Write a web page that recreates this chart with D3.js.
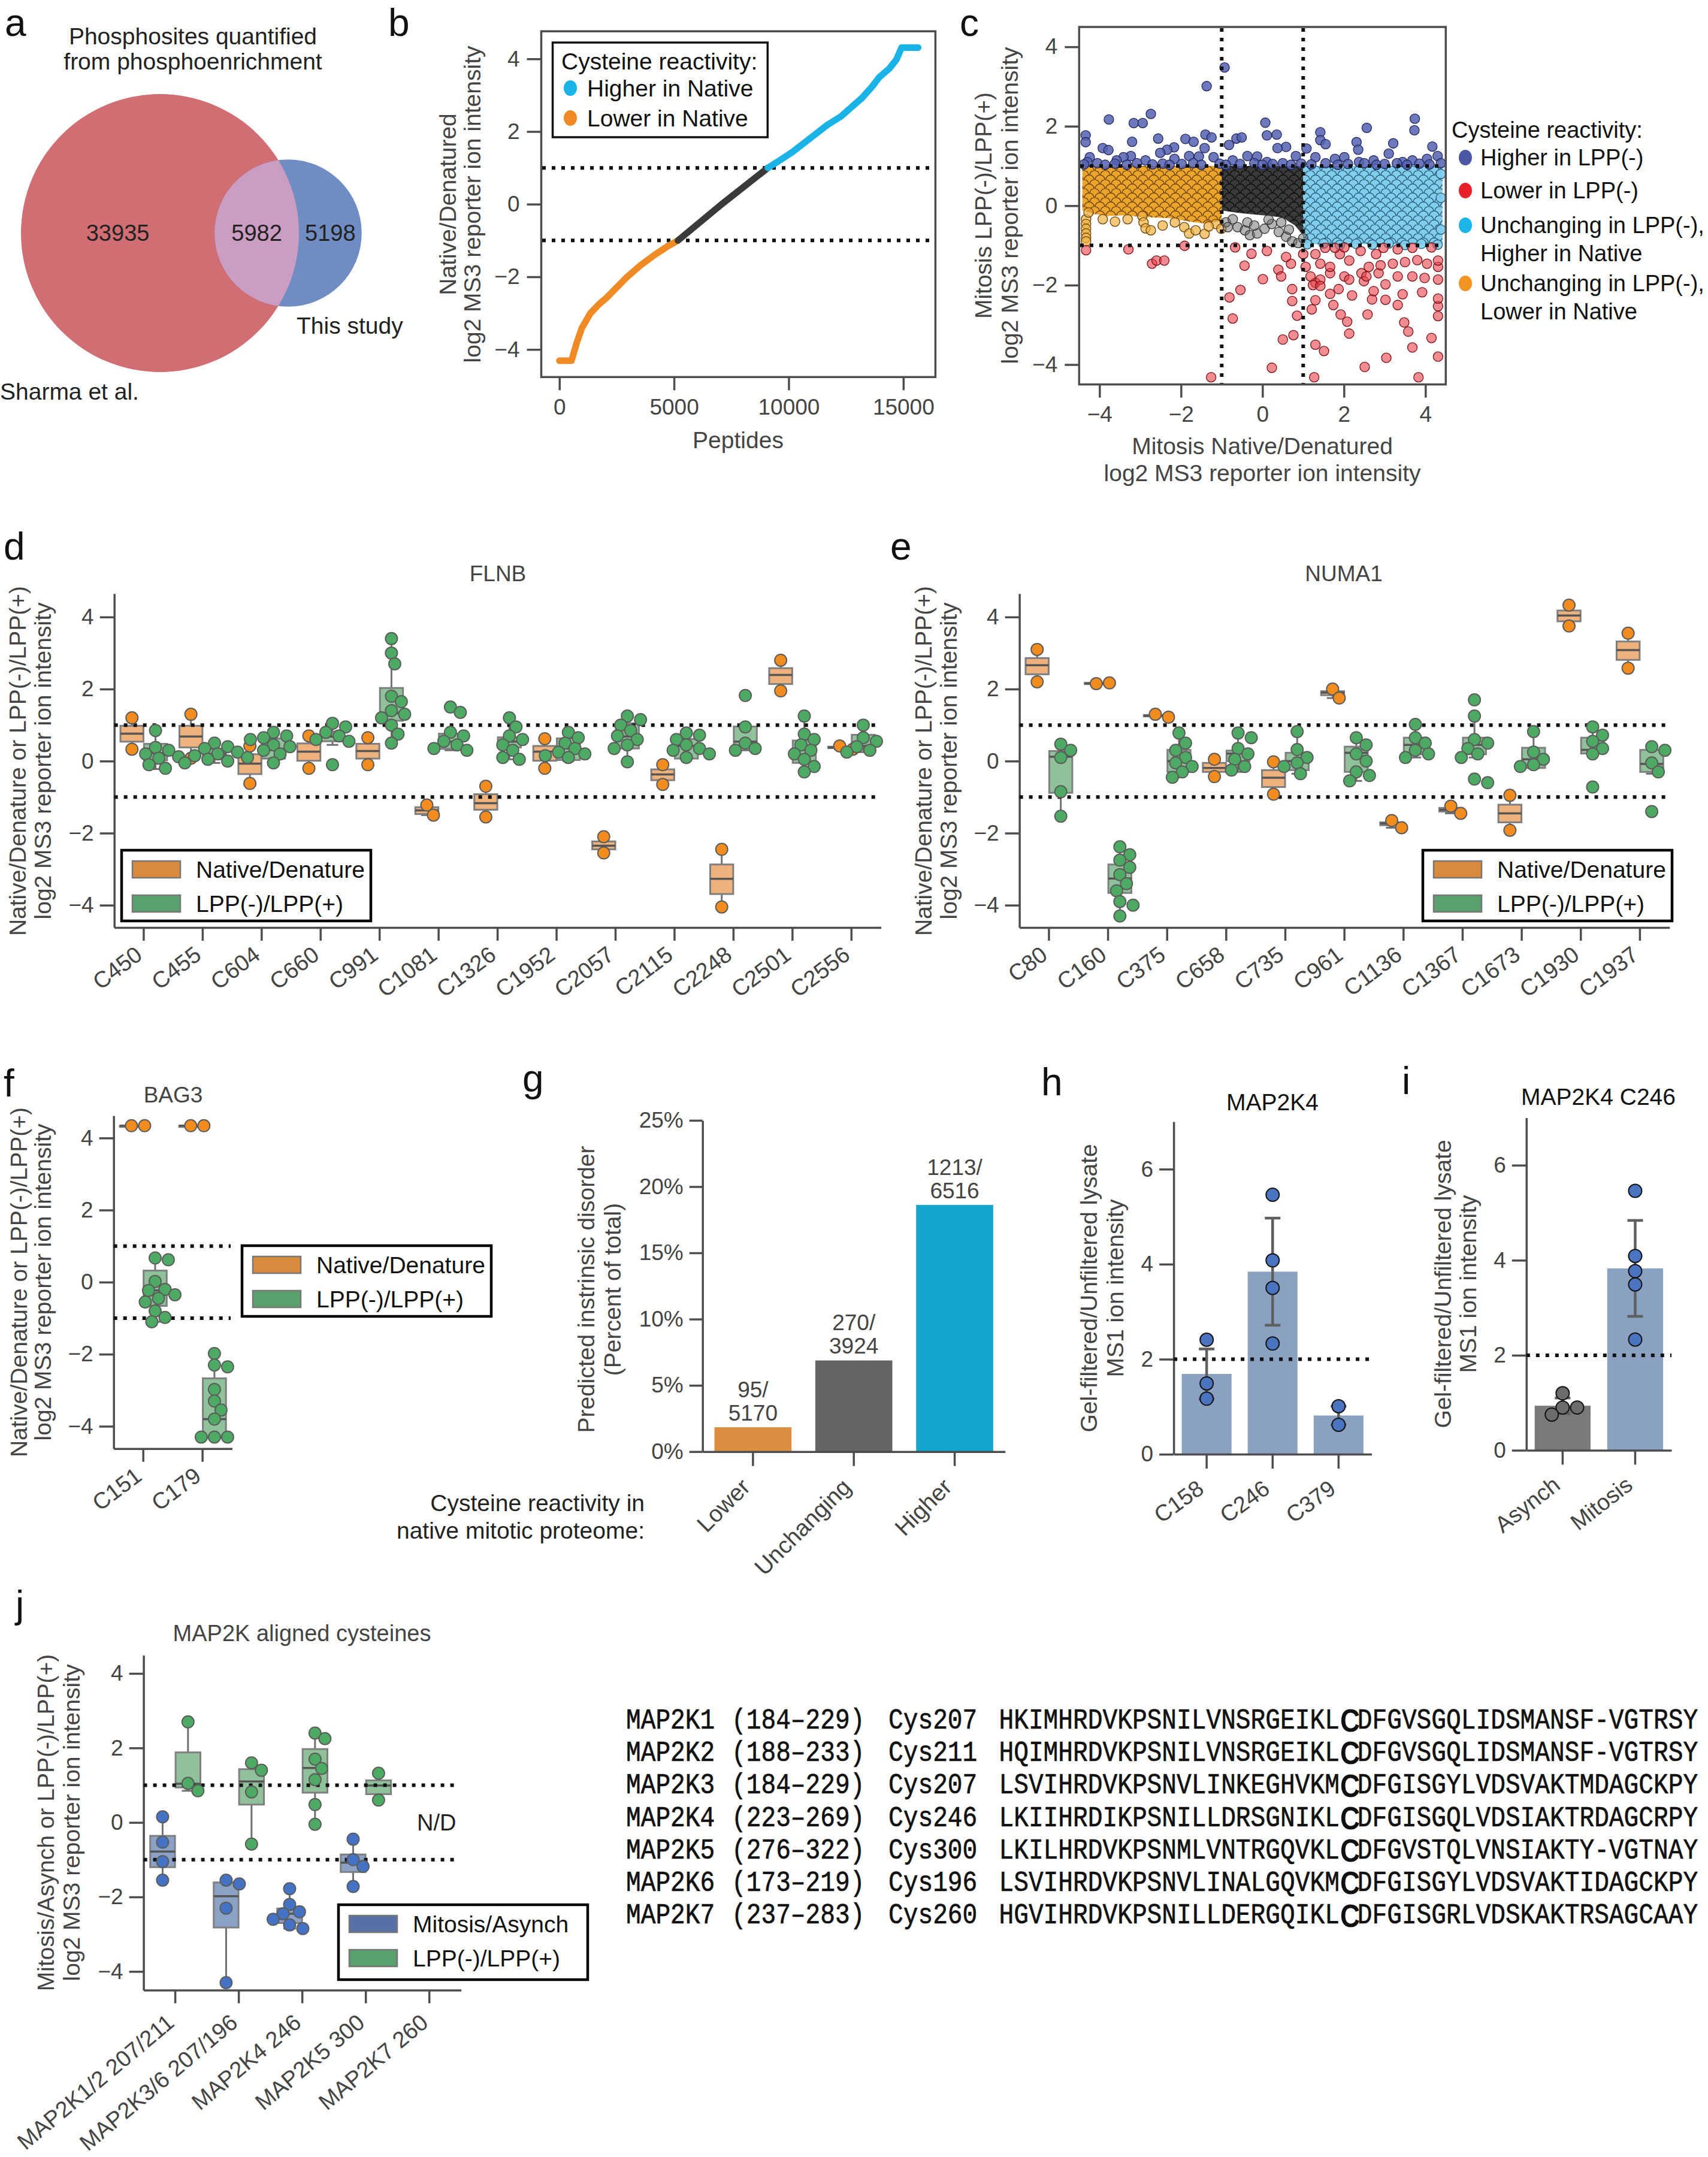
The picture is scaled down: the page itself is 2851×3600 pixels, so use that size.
<!DOCTYPE html>
<html>
<head>
<meta charset="utf-8">
<script src="https://cdn.jsdelivr.net/npm/d3@7"></script>
<style>
  body { margin: 0; background: #fff; }
</style>
</head>
<body>
<svg id="fig" width="2851" height="3600"></svg>
<script>
// ---------------- data ----------------
// a: venn
var vennCounts = [33935, 5982, 5198];          // only Sharma, both, only this study
var vennNames = ["Sharma et al.", "This study"];

// b: ranked peptides
var peptideRank  = [0, 528, 754, 980, 1357, 1734, 2035, 2940, 3543, 4146, 4749, 5170, 7161, 9094, 9573, 10176, 10929, 11683, 12286, 12738, 13191, 13643, 13944, 14397, 14698, 14924, 15650];
var peptideRatio = [-4.31, -4.31, -3.82, -3.41, -3.0, -2.75, -2.59, -2.01, -1.68, -1.40, -1.15, -1.0, 0.04, 1.0, 1.19, 1.44, 1.81, 2.18, 2.42, 2.67, 2.92, 3.24, 3.49, 3.74, 3.98, 4.31, 4.31];
var rankCuts = [5170, 9094];

// c: scatter
var cHigher = [[-0.93,3.48],[-1.37,3.01],[-3.77,2.17],[-2.74,2.31],[-3.16,2.08],[-2.94,2.08],[0.07,2.09],[3.74,2.19],[3.73,1.9],[2.56,1.96],[-4.34,1.77],[-4.34,1.6],[1.42,1.85],[1.42,1.65],[1.55,1.55],[0.11,1.77],[0.35,1.79],[-0.64,1.69],[-0.51,1.72],[-1.4,1.79],[-1.25,1.72],[-2.56,1.69],[-3.2,1.61],[-1.89,1.68],[-1.69,1.61],[2.31,1.6],[2.35,1.41],[3.21,1.57],[4.17,1.49],[-3.92,1.45],[-3.78,1.4],[-2.17,1.47],[-2.34,1.41],[-1.42,1.45],[-0.82,1.53],[0.58,1.48],[0.37,1.45],[1.08,1.44],[3.1,1.31],[-3.23,1.25],[-3.41,1.22],[-4.24,1.22],[-2.51,1.33],[-1.8,1.25],[-1.56,1.24],[-1.2,1.22],[-0.37,1.25],[-0.13,1.24],[0.82,1.25],[1.3,1.22],[1.78,1.18],[2.01,1.22],[2.73,1.14],[3.44,1.1],[4.04,1.18],[4.3,1.25],[-4.3,1.1],[-3.58,1.14],[-2.87,1.14],[-2.16,1.18],[-0.73,1.14],[0.11,1.1],[2.37,1.1],[3.68,1.14],
  [-4.38,1.04],[-4.05,1.07],[-3.86,1.03],[-3.62,1.06],[-3.33,1.03],[-3.08,1.07],[-2.7,1.04],[-2.45,1.06],[-2.28,1.03],[-1.98,1.05],[-1.7,1.07],[-1.5,1.03],[-1.05,1.06],[-0.9,1.03],[-0.55,1.05],[-0.2,1.07],[0.0,1.03],[0.25,1.05],[0.5,1.07],[0.7,1.03],[0.95,1.06],[1.2,1.04],[1.55,1.07],[1.85,1.03],[2.1,1.05],[2.5,1.07],[2.8,1.03],[3.0,1.05],[3.3,1.07],[3.55,1.03],[3.85,1.06],[4.1,1.04],[4.38,1.07]];
var cLower = [[-4.33,-1.12],[-3.29,-1.1],[-2.71,-1.46],[-2.6,-1.38],[-2.41,-1.38],[-1.91,-1.01],[-0.67,-1.05],[-0.27,-1.21],[0.11,-1.14],[-0.44,-1.51],[0.39,-1.61],[0.01,-1.85],[-0.54,-2.12],[-0.81,-2.31],[-0.73,-2.84],[0.73,-2.4],[0.85,-2.77],[0.76,-3.26],[0.5,-3.37],[0.23,-4.08],[-1.26,-4.32],[1.27,-4.32],[1.3,-3.5],[1.51,-3.66],[3.04,-3.83],[2.51,-4.06],[3.83,-4.32],[4.31,-3.8],[3.68,-3.57],[4.15,-3.33],[3.58,-3.17],[3.48,-2.94],[2.58,-2.74],[2.13,-3.22],[2.08,-2.92],[1.92,-2.74],[1.21,-2.61],[1.74,-2.5],[2.69,-2.36],[3.02,-2.37],[3.32,-2.5],[4.31,-2.53],[4.31,-2.78],[4.31,-2.34],[3.92,-2.18],[3.44,-2.23],[2.73,-2.15],[2.2,-2.26],[1.87,-2.1],[1.66,-2.22],[1.3,-2.38],[0.73,-2.1],[1.3,-1.94],[1.42,-1.86],[1.18,-1.78],[1.24,-2.0],[1.42,-2.02],[1.66,-1.7],[2.01,-1.78],[2.13,-1.86],[2.43,-1.7],[2.49,-1.9],[2.55,-1.78],[2.85,-1.7],[3.02,-1.98],[3.32,-1.78],[3.68,-1.78],[3.98,-1.82],[4.31,-1.86],[4.31,-1.54],[4.31,-1.38],[4.04,-1.46],[3.8,-1.37],[3.5,-1.42],[3.2,-1.46],[2.9,-1.5],[2.79,-1.22],[2.61,-1.54],[2.41,-1.14],[2.13,-1.38],[1.9,-1.22],[1.66,-1.54],[1.42,-1.46],[1.3,-1.22],[1.06,-1.54],[0.7,-1.46],[1.0,-1.22],[1.54,-1.06],[1.78,-1.06],[2.01,-1.05],[2.97,-1.06],[3.32,-1.1],[3.68,-1.06],[4.15,-1.05],[0.58,-1.29],[0.46,-1.78]];
var cGrayEdge = [[-0.9,-0.42],[-0.73,-0.34],[-0.61,-0.54],[-0.43,-0.62],[-0.31,-0.74],[-0.13,-0.7],[0.05,-0.58],[0.23,-0.46],[0.4,-0.66],[0.58,-0.78],[0.73,-0.9],[0.88,-0.94],[1.0,-0.82],[0.46,-0.42],[-0.37,-0.42],[-0.85,-0.54],[0.15,-0.35],[-0.2,-0.5],[0.65,-0.6]];
var cOrangeEdge = [[-4.33,-0.34],[-4.33,-0.46],[-4.33,-0.58],[-4.33,-0.7],[-4.33,-0.81],[-4.33,-0.9],[-4.27,-0.17],[-3.92,-0.34],[-3.62,-0.4],[-3.31,-0.34],[-2.95,-0.26],[-2.92,-0.42],[-2.87,-0.57],[-2.74,-0.62],[-2.45,-0.5],[-2.15,-0.42],[-1.92,-0.54],[-1.8,-0.7],[-1.64,-0.62],[-1.42,-0.71],[-1.14,-0.46],[-1.01,-0.58],[-1.32,-0.52]];
var cBlueEdge = [[1.1,-0.97],[1.5,-0.95],[1.9,-0.99],[2.3,-0.96],[2.7,-0.98],[3.1,-0.95],[3.5,-0.99],[3.9,-0.96],[4.3,-0.98],[4.38,-0.6],[4.38,0.2],[4.38,0.8]];
// dense cores: [x, low, high]
var cOrangeBand = [[-4.42,-0.12,1.0],[-4.2,-0.2,1.0],[-3.8,-0.26,1.0],[-3.4,-0.24,1.0],[-3.0,-0.28,1.0],[-2.6,-0.3,1.0],[-2.2,-0.32,1.0],[-1.8,-0.4,1.0],[-1.4,-0.45,1.0],[-1.0,-0.38,1.0]];
var cBlackBand  = [[-1.0,-0.12,1.0],[-0.6,-0.18,1.0],[-0.2,-0.22,1.0],[0.2,-0.26,1.0],[0.5,-0.3,1.0],[0.8,-0.5,1.0],[1.0,-0.75,1.0]];
var cBlueBand   = [[1.0,-0.96,1.0],[1.8,-0.98,1.0],[2.6,-0.97,1.0],[3.4,-0.98,1.0],[4.42,-0.96,1.0]];
var cLegend = ["Higher in LPP(-)", "Lower in LPP(-)", "Unchanging in LPP(-),|Higher in Native", "Unchanging in LPP(-),|Lower in Native"];

// d: FLNB  [low whisker, q1, median, q3, high whisker]
var flnbSites = ["C450","C455","C604","C660","C991","C1081","C1326","C1952","C2057","C2115","C2248","C2501","C2556"];
var flnbNatBox = [[0.33,0.54,0.76,0.98,1.2],[0.1,0.38,0.68,0.98,1.3],[-0.62,-0.36,-0.07,0.19,0.42],[-0.2,0.01,0.26,0.49,0.7],[-0.1,0.07,0.28,0.48,0.65],[-1.5,-1.47,-1.37,-1.28,-1.22],[-1.55,-1.35,-1.17,-0.92,-0.7],[-0.2,0.01,0.26,0.42,0.62],[-2.55,-2.45,-2.35,-2.23,-2.1],[-0.65,-0.53,-0.37,-0.23,-0.1],[-4.05,-3.69,-3.27,-2.87,-2.45],[1.95,2.14,2.39,2.58,2.8],[0.33,0.36,0.38,0.4,0.42]];
var flnbNatPts = [[1.2,0.33],[1.3,0.08],[0.42,-0.62],[0.7,-0.2],[0.65,-0.1],[-1.22,-1.5],[-0.7,-1.55],[0.62,-0.2],[-2.1,-2.55],[-0.1,-0.65],[-2.45,-4.05],[2.8,1.95],[0.42,0.33]];
var flnbLppBox = [[-0.22,0.02,0.22,0.48,0.85],[-0.05,0.05,0.2,0.33,0.55],[-0.05,0.07,0.31,0.63,0.8],[0.45,0.55,0.68,0.82,1.05],[0.5,1.12,1.33,2.03,3.4],[0.3,0.34,0.54,0.76,0.8],[0.05,0.38,0.54,0.66,1.2],[0.0,0.03,0.35,0.63,0.85],[-0.02,0.35,0.68,1.05,1.3],[0.05,0.07,0.42,0.61,0.78],[0.3,0.42,0.54,0.96,1.0],[-0.35,-0.05,0.31,0.57,1.25],[0.25,0.38,0.42,0.73,1.05]];
var flnbLppPts = [[0.85,0.38,0.3,0.2,0.12,0.08,-0.1,-0.2],[0.5,0.4,0.35,0.25,0.2,0.15,0.1,0.05,0.0,-0.05],[0.8,0.7,0.65,0.6,0.45,0.4,0.3,0.2,-0.05],[1.05,0.95,0.8,0.7,0.6,0.55,-0.1],[3.4,3.0,2.7,1.8,1.65,1.4,1.3,1.2,1.0,0.75,0.5],[1.5,1.35,0.8,0.7,0.55,0.45,0.35,0.3],[1.2,0.95,0.7,0.6,0.45,0.3,0.1,0.05],[0.8,0.65,0.5,0.35,0.25,0.2,0.15,0.1],[1.25,1.15,1.0,0.85,0.7,0.6,0.45,0.35,-0.02],[0.78,0.72,0.6,0.45,0.35,0.3,0.2,0.1],[1.82,0.95,0.5,0.35,0.3],[1.25,0.75,0.6,0.45,0.3,0.2,0.05,-0.15,-0.3],[1.0,0.65,0.55,0.4,0.3,0.25]];

// e: NUMA1
var numaSites = ["C80","C160","C375","C658","C735","C961","C1136","C1367","C1673","C1930","C1937"];
var numaNatBox = [[2.2,2.41,2.66,2.86,3.1],[2.14,2.15,2.16,2.17,2.18],[1.22,1.24,1.26,1.28,1.3],[-0.43,-0.3,-0.19,-0.05,0.05],[-0.92,-0.72,-0.46,-0.25,-0.02],[1.75,1.83,1.9,1.94,2.0],[-1.85,-1.78,-1.73,-1.7,-1.65],[-1.45,-1.4,-1.35,-1.3,-1.25],[-1.92,-1.7,-1.45,-1.21,-0.95],[3.75,3.88,4.04,4.18,4.33],[2.58,2.81,3.08,3.32,3.55]];
var numaNatPts = [[3.1,2.2],[2.15,2.17],[1.3,1.22],[0.05,-0.43],[-0.02,-0.92],[2.0,1.75],[-1.65,-1.85],[-1.25,-1.45],[-0.95,-1.92],[4.33,3.75],[3.55,2.58]];
var numaLppBox = [[-1.53,-0.88,0.12,0.28,0.47],[-4.3,-3.66,-3.26,-2.87,-2.38],[-0.45,-0.3,0.0,0.31,0.78],[-0.3,0.0,0.21,0.29,0.8],[-0.35,-0.25,0.0,0.23,0.85],[-0.55,-0.3,0.23,0.4,0.65],[0.1,0.19,0.45,0.65,1.02],[0.1,0.19,0.45,0.65,1.25],[-0.2,-0.19,0.05,0.37,0.82],[0.15,0.21,0.31,0.65,1.0],[-0.35,-0.3,-0.08,0.31,0.4]];
var numaLppPts = [[0.47,0.3,0.1,-0.85,-1.53],[-2.38,-2.6,-2.75,-2.95,-3.15,-3.4,-3.6,-3.9,-4.0,-4.3],[0.78,0.5,0.3,0.1,-0.05,-0.15,-0.3,-0.45],[0.78,0.65,0.35,0.2,0.05,-0.15,-0.25],[0.82,0.32,0.1,-0.05,-0.15,-0.35],[0.65,0.45,0.2,0.0,-0.3,-0.4,-0.55],[1.02,0.65,0.5,0.3,0.2,0.1],[1.7,1.25,0.6,0.5,0.35,0.2,0.1,-0.5,-0.6],[0.82,0.25,0.05,-0.1,-0.15],[0.95,0.72,0.55,0.35,0.2,-0.72],[0.4,0.3,-0.05,-0.3,-1.4]];

// f: BAG3
var bagSites = ["C151","C179"];
var bagNatBox = [[4.33,4.33,4.34,4.34,4.35],[4.33,4.33,4.34,4.34,4.35]];
var bagNatPts = [[4.34,4.34],[4.34,4.34]];
var bagLppBox = [[-1.1,-0.66,-0.23,0.32,0.67],[-4.33,-4.32,-3.8,-2.67,-1.98]];
var bagLppPts = [[0.67,0.62,0.02,-0.2,-0.23,-0.35,-0.45,-0.55,-0.8,-0.98,-1.1],[-1.98,-2.3,-2.35,-2.98,-3.3,-3.55,-3.8,-4.3,-4.3,-4.3]];

// g: disorder
var reactClass = ["Lower","Unchanging","Higher"];
var disorderN = [95, 270, 1213];
var classN = [5170, 3924, 6516];
var classColor = ["#db8e3f", "#636466", "#14a5cf"];

// h, i
var hSites = ["C158","C246","C379"];
var hVals = [[2.41,1.49,1.17],[5.46,4.08,3.5,2.33],[1.01,0.62]];
var iConds = ["Asynch","Mitosis"];
var iVals = [[1.2,0.9,0.9,0.75],[5.46,4.09,3.77,3.49,2.33]];

// j: MAP2K
var mapSites = ["MAP2K1/2 207/211","MAP2K3/6 207/196","MAP2K4 246","MAP2K5 300","MAP2K7 260"];
var mapMitBox = [[-1.55,-1.2,-0.78,-0.36,0.15],[-4.3,-2.82,-1.98,-1.61,-1.55],[-2.85,-2.7,-2.45,-2.31,-1.78],[-1.72,-1.33,-1.08,-0.86,-0.45],null];
var mapMitPts = [[0.15,-0.53,-1.05,-1.55],[-1.55,-1.65,-2.3,-4.3],[-1.78,-2.2,-2.4,-2.45,-2.6,-2.75,-2.85],[-0.45,-1.0,-1.18,-1.72],null];
var mapLppBox = [[0.85,0.94,1.04,1.88,2.7],[-0.58,0.48,1.1,1.43,1.6],[-0.05,0.8,1.46,1.97,2.4],[0.6,0.76,0.99,1.13,1.32],null];
var mapLppPts = [[2.7,1.05,0.85],[1.6,1.4,0.82,-0.58],[2.4,2.25,1.7,1.45,1.15,0.48,-0.05],[1.32,0.6],null];

// alignment
var seqNames = ["MAP2K1","MAP2K2","MAP2K3","MAP2K4","MAP2K5","MAP2K6","MAP2K7"];
var seqRanges = ["(184\u2013229)","(188\u2013233)","(184\u2013229)","(223\u2013269)","(276\u2013322)","(173\u2013219)","(237\u2013283)"];
var seqCys = ["Cys207","Cys211","Cys207","Cys246","Cys300","Cys196","Cys260"];
var seqs = ["HKIMHRDVKPSNILVNSRGEIKLCDFGVSGQLIDSMANSF-VGTRSY","HQIMHRDVKPSNILVNSRGEIKLCDFGVSGQLIDSMANSF-VGTRSY","LSVIHRDVKPSNVLINKEGHVKMCDFGISGYLVDSVAKTMDAGCKPY","LKIIHRDIKPSNILLDRSGNIKLCDFGISGQLVDSIAKTRDAGCRPY","LKILHRDVKPSNMLVNTRGQVKLCDFGVSTQLVNSIAKTY-VGTNAY","LSVIHRDVKPSNVLINALGQVKMCDFGISGYLVDSVAKTIDAGCKPY","HGVIHRDVKPSNILLDERGQIKLCDFGISGRLVDSKAKTRSAGCAAY"];

// ---------------- drawing ----------------
var FONT = "'Liberation Sans', Arial, Helvetica, sans-serif";
var AX = "#4d4d4d", TX = "#444";
var svg = d3.select("#fig").attr("font-family", FONT);
svg.append("rect").attr("width", 2851).attr("height", 3600).attr("fill", "#fff");
var defs = svg.append("defs");

function letter(t, x, y) {
  svg.append("text").attr("x", x).attr("y", y).attr("font-size", 64).attr("fill", "#111").text(t);
}
function styleAxis(g, fs) {
  g.selectAll(".domain").attr("stroke", AX).attr("stroke-width", 3.5);
  g.selectAll(".tick line").attr("stroke", AX).attr("stroke-width", 3.5);
  g.selectAll(".tick text").attr("fill", TX).attr("font-size", fs || 37).attr("font-family", FONT);
}
function yLabel(lines, xs, cy, fs) {
  lines.forEach(function(t, i) {
    svg.append("text").attr("transform", "translate(" + xs[i] + "," + cy + ") rotate(-90)")
      .attr("text-anchor", "middle").attr("dominant-baseline", "central")
      .attr("font-size", fs || 39).attr("fill", TX).text(t);
  });
}
function ctext(t, x, y, fs, col, anchor) {
  return svg.append("text").attr("x", x).attr("y", y).attr("text-anchor", anchor || "middle")
    .attr("dominant-baseline", "central").attr("font-size", fs).attr("fill", col).text(t);
}
function dotted(x0, x1, y0, y1) {
  svg.append("line").attr("x1", x0).attr("x2", x1).attr("y1", y0).attr("y2", y1)
    .attr("stroke", "#111").attr("stroke-width", 6).attr("stroke-dasharray", "6,10");
}
// simple beeswarm: horizontal offsets so circles don't overlap
function swarm(vals, y, r) {
  var placed = [];
  return vals.map(function(v) {
    var py = y(v), off = 0;
    for (var k = 0; k < 60; k++) {
      var cand = k === 0 ? 0 : (k % 2 ? 1 : -1) * Math.ceil(k / 2) * r * 0.55;
      var ok = placed.every(function(p) { return Math.hypot(p[0] - cand, p[1] - py) >= 2 * r * 0.92; });
      if (ok) { off = cand; break; }
    }
    placed.push([off, py]);
    return off;
  });
}

// ===== a =====
letter("a", 8, 60);
ctext("Phosphosites quantified", 322, 60, 39, "#222");
ctext("from phosphoenrichment", 322, 102, 39, "#222");
var totA = vennCounts[0] + vennCounts[1], totB = vennCounts[1] + vennCounts[2];
var rSc = d3.scaleSqrt().domain([0, totA]).range([0, 232]);
var rA = rSc(totA), rB = rSc(totB);
function lens(d) {
  var a1 = Math.acos((d*d + rA*rA - rB*rB) / (2*d*rA)), a2 = Math.acos((d*d + rB*rB - rA*rA) / (2*d*rB));
  return rA*rA*a1 + rB*rB*a2 - 0.5*Math.sqrt((-d+rA+rB)*(d+rA-rB)*(d-rA+rB)*(d+rA+rB));
}
var target = Math.PI * rA * rA * vennCounts[1] / totA, lo = rA - rB + 0.01, hi = rA + rB - 0.01;
for (var k = 0; k < 60; k++) { var m = (lo + hi) / 2; if (lens(m) > target) lo = m; else hi = m; }
var vxA = 267, vxB = 267 + (lo + hi) / 2, vy = 389;
svg.append("circle").attr("cx", vxA).attr("cy", vy).attr("r", rA).attr("fill", "#d16e74");
svg.append("circle").attr("cx", vxB).attr("cy", vy).attr("r", rB).attr("fill", "#6f8dc3");
defs.append("clipPath").attr("id", "clipA").append("circle").attr("cx", vxA).attr("cy", vy).attr("r", rA);
svg.append("circle").attr("cx", vxB).attr("cy", vy).attr("r", rB).attr("fill", "#cc9dc2").attr("clip-path", "url(#clipA)");
var vennLabelX = [(vxA - rA + vxB - rB) / 2, (vxB - rB + vxA + rA) / 2, (vxA + rA + vxB + rB) / 2];
vennCounts.forEach(function(c, i) { ctext(c, vennLabelX[i], vy, 38, "#222"); });
svg.append("text").attr("x", 495).attr("y", 557).attr("font-size", 39).attr("fill", "#222").text(vennNames[1]);
svg.append("text").attr("x", 0).attr("y", 667).attr("font-size", 39).attr("fill", "#222").text(vennNames[0]);

// ===== b =====
letter("b", 648, 60);
var bX = d3.scaleLinear().domain([-790, 16400]).range([903.5, 1561.4]);
var bY = d3.scaleLinear().domain([-4.76, 4.76]).range([629.3, 52.2]);
var gbx = svg.append("g").attr("transform", "translate(0,629.3)")
  .call(d3.axisBottom(bX).tickValues([0, 5000, 10000, 15000]).tickFormat(d3.format("d")).tickSize(22).tickPadding(14));
gbx.select(".domain").remove(); styleAxis(gbx);
var gby = svg.append("g").attr("transform", "translate(903.5,0)")
  .call(d3.axisLeft(bY).tickValues([-4, -2, 0, 2, 4]).tickFormat(d3.format("d")).tickSize(24).tickPadding(12));
gby.select(".domain").remove(); styleAxis(gby);
svg.append("rect").attr("x", 903.5).attr("y", 52.2).attr("width", 657.9).attr("height", 577.1)
  .attr("fill", "none").attr("stroke", AX).attr("stroke-width", 3.5);
dotted(905, 1560, bY(1), bY(1)); dotted(905, 1560, bY(-1), bY(-1));
var rankPts = peptideRank.map(function(r, i) { return [r, peptideRatio[i]]; });
var bLine = d3.line().x(function(d) { return bX(d[0]); }).y(function(d) { return bY(d[1]); });
[[rankPts.filter(function(d) { return d[0] <= rankCuts[0]; }), "#f08a24"],
 [rankPts.filter(function(d) { return d[0] >= rankCuts[0] && d[0] <= rankCuts[1]; }), "#3a3a3a"],
 [rankPts.filter(function(d) { return d[0] >= rankCuts[1]; }), "#1ab3e8"]].forEach(function(s) {
  svg.append("path").attr("d", bLine(s[0])).attr("fill", "none").attr("stroke", s[1])
    .attr("stroke-width", 11).attr("stroke-linecap", "round").attr("stroke-linejoin", "round");
});
svg.append("rect").attr("x", 922.5).attr("y", 71).attr("width", 358.8).attr("height", 158)
  .attr("fill", "#fff").attr("stroke", "#111").attr("stroke-width", 3.5);
ctext("Cysteine reactivity:", 937, 102, 39, "#111", "start");
[["Higher in Native", "#1ab3e8", 147], ["Lower in Native", "#f08a24", 197]].forEach(function(e) {
  svg.append("ellipse").attr("cx", 952).attr("cy", e[2]).attr("rx", 11).attr("ry", 13).attr("fill", e[1]);
  ctext(e[0], 980, e[2], 39, "#111", "start");
});
yLabel(["Native/Denatured", "log2 MS3 reporter ion intensity"], [747, 788], 341);
ctext("Peptides", 1232, 734, 39, TX);

// ===== c =====
letter("c", 1602, 60);
var cX = d3.scaleLinear().domain([-4.5, 4.5]).range([1801.3, 2413.3]);
var cY = d3.scaleLinear().domain([-4.5, 4.5]).range([641.6, 45]);
function circlePattern(id, base, fill, edge) {
  var p = defs.append("pattern").attr("id", id).attr("patternUnits", "userSpaceOnUse").attr("width", 18).attr("height", 15);
  p.append("rect").attr("width", 18).attr("height", 15).attr("fill", base);
  [[0,0],[18,0],[9,7.5],[0,15],[18,15]].forEach(function(c) {
    p.append("circle").attr("cx", c[0]).attr("cy", c[1]).attr("r", 8).attr("fill", fill).attr("stroke", edge).attr("stroke-width", 1.4);
  });
}
circlePattern("patO", "#8a5a10", "#eca52a", "#6a4208");
circlePattern("patK", "#111", "#3a3a3a", "#0c0c0c");
circlePattern("patB", "#2d6f8a", "#80cdee", "#2a5d73");
var cArea = d3.area().x(function(d) { return cX(d[0]); }).y0(function(d) { return cY(d[1]); }).y1(function(d) { return cY(d[2]); });
svg.append("path").attr("d", cArea(cOrangeBand)).attr("fill", "url(#patO)");
svg.append("path").attr("d", cArea(cBlackBand)).attr("fill", "url(#patK)");
svg.append("path").attr("d", cArea(cBlueBand)).attr("fill", "url(#patB)");
function cDots(pts, fill, edge, op) {
  svg.append("g").selectAll("circle").data(pts).enter().append("circle")
    .attr("cx", function(d) { return cX(d[0]); }).attr("cy", function(d) { return cY(d[1]); })
    .attr("r", 8).attr("fill", fill).attr("fill-opacity", op).attr("stroke", edge).attr("stroke-width", 1.3);
}
cDots(cOrangeEdge, "#f0b040", "#6a4208", 0.7);
cDots(cGrayEdge, "#6a6a6a", "#333", 0.5);
cDots(cBlueEdge, "#80cdee", "#2a5d73", 0.9);
cDots(cHigher, "#5560b0", "#23285e", 0.85);
cDots(cLower, "#e8404a", "#7a1014", 0.6);
var gcx = svg.append("g").attr("transform", "translate(0,641.6)")
  .call(d3.axisBottom(cX).tickValues([-4, -2, 0, 2, 4]).tickFormat(d3.format("d")).tickSize(22).tickPadding(14));
gcx.select(".domain").remove(); styleAxis(gcx);
var gcy = svg.append("g").attr("transform", "translate(1801.3,0)")
  .call(d3.axisLeft(cY).tickValues([-4, -2, 0, 2, 4]).tickFormat(d3.format("d")).tickSize(24).tickPadding(12));
gcy.select(".domain").remove(); styleAxis(gcy);
dotted(1803, 2411, cY(1), cY(1)); dotted(1803, 2411, cY(-1), cY(-1));
dotted(cX(-1), cX(-1), 47, 640); dotted(cX(1), cX(1), 47, 640);
svg.append("rect").attr("x", 1801.3).attr("y", 45).attr("width", 612).attr("height", 596.6)
  .attr("fill", "none").attr("stroke", AX).attr("stroke-width", 3.5);
yLabel(["Mitosis LPP(-)/LPP(+)", "log2 MS3 reporter ion intensity"], [1641, 1685], 343);
ctext("Mitosis Native/Denatured", 2107, 744, 39, TX);
ctext("log2 MS3 reporter ion intensity", 2107, 789, 39, TX);
ctext("Cysteine reactivity:", 2423, 217, 38, "#111", "start");
var cLegCol = ["#4b57a5", "#e8202a", "#1cb5ea", "#f39322"];
var cLegY = [263, 318, 376, 473];
cLegend.forEach(function(t, i) {
  svg.append("ellipse").attr("cx", 2446).attr("cy", cLegY[i]).attr("rx", 11).attr("ry", 13).attr("fill", cLegCol[i]);
  t.split("|").forEach(function(line, j) { ctext(line, 2471, cLegY[i] + j * 47, 38, "#111", "start"); });
});

// ===== box + strip panels (d, e, f, j) =====
function boxPanel(p) {
  var x = d3.scaleBand().domain(p.cats).range(p.xr);
  var y = d3.scaleLinear().domain(p.yd).range(p.yr);
  var bw = x.bandwidth(), w = 0.39 * bw;
  var gx = svg.append("g").attr("transform", "translate(0," + p.yr[0] + ")")
    .call(d3.axisBottom(x).tickSize(22).tickSizeOuter(0));
  styleAxis(gx, 38);
  gx.selectAll(".tick text").attr("text-anchor", "end").attr("x", 0).attr("y", 0).attr("dy", "0.35em")
    .attr("transform", "translate(" + p.lab[0] + "," + p.lab[1] + ") rotate(" + p.rot + ")");
  var gy = svg.append("g").attr("transform", "translate(" + p.xr[0] + ",0)")
    .call(d3.axisLeft(y).tickValues([-4, -2, 0, 2, 4]).tickFormat(d3.format("d")).tickSize(24).tickSizeOuter(0).tickPadding(10));
  styleAxis(gy);
  p.series.forEach(function(s) {
    p.cats.forEach(function(c, i) {
      var b = s.box[i]; if (!b) return;
      var cx = x(c) + bw / 2 + s.off * bw, g = svg.append("g");
      g.append("line").attr("x1", cx).attr("x2", cx).attr("y1", y(b[0])).attr("y2", y(b[4])).attr("stroke", "#707070").attr("stroke-width", 3);
      [b[0], b[4]].forEach(function(v) {
        g.append("line").attr("x1", cx - w / 4).attr("x2", cx + w / 4).attr("y1", y(v)).attr("y2", y(v)).attr("stroke", "#707070").attr("stroke-width", 3);
      });
      g.append("rect").attr("x", cx - w / 2).attr("width", w).attr("y", y(b[3])).attr("height", Math.max(2, y(b[1]) - y(b[3])))
        .attr("fill", s.boxFill).attr("stroke", "#7f7f7f").attr("stroke-width", 3);
      g.append("line").attr("x1", cx - w / 2).attr("x2", cx + w / 2).attr("y1", y(b[2])).attr("y2", y(b[2])).attr("stroke", "#555").attr("stroke-width", 3.5);
    });
  });
  [1, -1].forEach(function(v) { dotted(p.xr[0], p.dotEnd, y(v), y(v)); });
  p.series.forEach(function(s) {
    p.cats.forEach(function(c, i) {
      var pts = s.pts[i]; if (!pts) return;
      var cx = x(c) + bw / 2 + s.off * bw, offs = swarm(pts, y, 10);
      svg.append("g").selectAll("circle").data(pts).enter().append("circle")
        .attr("cx", function(d, k) { return cx + offs[k]; }).attr("cy", function(d) { return y(d); })
        .attr("r", 10).attr("fill", s.ptFill).attr("stroke", "#5c5c5c").attr("stroke-width", 2);
    });
  });
  var lg = svg.append("g").attr("transform", "translate(" + p.leg[0] + "," + p.leg[1] + ")");
  lg.append("rect").attr("width", 416).attr("height", p.leg[2]).attr("fill", "#fff").attr("stroke", "#000").attr("stroke-width", 4.5);
  p.series.forEach(function(s, i) {
    var yy = 32 + i * 57;
    lg.append("rect").attr("x", 18).attr("y", yy - 14).attr("width", 80).attr("height", 28).attr("fill", s.legFill).attr("stroke", "#777").attr("stroke-width", 2.5);
    lg.append("text").attr("x", 124).attr("y", yy).attr("dominant-baseline", "central").attr("font-size", 39).attr("fill", "#111").text(s.name);
  });
  return { x: x, y: y };
}
var ORANGE = { boxFill: "#efb27c", ptFill: "#f28c1e", legFill: "#d98b3d", name: "Native/Denature" };
var GREEN  = { boxFill: "#8fc29b", ptFill: "#4caa63", legFill: "#5a9f6e", name: "LPP(-)/LPP(+)" };
function series(base, box, pts, off) { return Object.assign({}, base, { box: box, pts: pts, off: off }); }

// d
letter("d", 6, 934);
ctext("FLNB", 831, 957, 37, TX);
boxPanel({ cats: flnbSites, xr: [190.7, 1470.5], yd: [-4.62, 4.65], yr: [1548, 990.7], rot: -37, lab: [-8, 40], dotEnd: 1470,
  series: [series(ORANGE, flnbNatBox, flnbNatPts, -0.2), series(GREEN, flnbLppBox, flnbLppPts, 0.2)], leg: [203, 1419, 118] });
yLabel(["Native/Denature or LPP(-)/LPP(+)", "log2 MS3 reporter ion intensity"], [29, 71], 1270);

// e
letter("e", 1486, 934);
ctext("NUMA1", 2243, 957, 37, TX);
boxPanel({ cats: numaSites, xr: [1701.6, 2786.7], yd: [-4.62, 4.65], yr: [1548, 990.7], rot: -37, lab: [-8, 40], dotEnd: 2786,
  series: [series(ORANGE, numaNatBox, numaNatPts, -0.2), series(GREEN, numaLppBox, numaLppPts, 0.2)], leg: [2375, 1419, 118] });
yLabel(["Native/Denature or LPP(-)/LPP(+)", "log2 MS3 reporter ion intensity"], [1541, 1583], 1270);

// f
letter("f", 6, 1830);
ctext("BAG3", 289, 1827, 37, TX);
boxPanel({ cats: bagSites, xr: [189.7, 387.6], yd: [-4.62, 4.62], yr: [2417.7, 1862], rot: -37, lab: [-8, 40], dotEnd: 385,
  series: [series(ORANGE, bagNatBox, bagNatPts, -0.2), series(GREEN, bagLppBox, bagLppPts, 0.2)], leg: [404, 2079, 118] });
yLabel(["Native/Denature or LPP(-)/LPP(+)", "log2 MS3 reporter ion intensity"], [31, 71], 2140);

// j
letter("j", 26, 2700);
ctext("MAP2K aligned cysteines", 504, 2726, 38, TX);
var BLUE = { boxFill: "#8ba2c6", ptFill: "#4472c4", legFill: "#5571a6", name: "Mitosis/Asynch" };
var jp = boxPanel({ cats: mapSites, xr: [239.6, 769.7], yd: [-4.5, 4.49], yr: [3321.4, 2762.5], rot: -40, lab: [-8, 48], dotEnd: 765,
  series: [series(BLUE, mapMitBox, mapMitPts, -0.2), series(GREEN, mapLppBox, mapLppPts, 0.2)], leg: [565, 3179, 125] });
ctext("N/D", jp.x(mapSites[4]) + jp.x.bandwidth() / 2 + 12, jp.y(0), 38, "#222");
yLabel(["Mitosis/Asynch or LPP(-)/LPP(+)", "log2 MS3 reporter ion intensity"], [76, 119], 3042);

// ===== g =====
letter("g", 872, 1822);
var gX = d3.scaleBand().domain(reactClass).range([1172.7, 1677.7]).paddingInner(0.236).paddingOuter(0.118);
var gY = d3.scaleLinear().domain([0, 25]).range([2422.7, 1869.9]);
var pct = disorderN.map(function(n, i) { return 100 * n / classN[i]; });
svg.append("g").selectAll("rect").data(reactClass).enter().append("rect")
  .attr("x", function(d) { return gX(d); }).attr("width", gX.bandwidth())
  .attr("y", function(d, i) { return gY(pct[i]); }).attr("height", function(d, i) { return gY(0) - gY(pct[i]); })
  .attr("fill", function(d, i) { return classColor[i]; });
reactClass.forEach(function(c, i) {
  var xc = gX(c) + gX.bandwidth() / 2, yt = gY(pct[i]);
  ctext(disorderN[i] + "/", xc, yt - 63, 37, TX);
  ctext(classN[i], xc, yt - 24, 37, TX);
});
var ggx = svg.append("g").attr("transform", "translate(0,2422.7)").call(d3.axisBottom(gX).tickSize(24).tickSizeOuter(0));
styleAxis(ggx, 39);
ggx.selectAll(".tick text").attr("text-anchor", "end").attr("x", 0).attr("y", 0).attr("dy", "0.35em")
  .attr("transform", "translate(-12,52) rotate(-45)");
var ggy = svg.append("g").attr("transform", "translate(1172.7,0)")
  .call(d3.axisLeft(gY).tickValues([0, 5, 10, 15, 20, 25]).tickFormat(function(d) { return d + "%"; }).tickSize(22).tickSizeOuter(0).tickPadding(10));
styleAxis(ggy);
yLabel(["Predicted instrinsic disorder", "(Percent of total)"], [978, 1022], 2152);
ctext("Cysteine reactivity in", 1076, 2508, 39, "#222", "end");
ctext("native mitotic proteome:", 1076, 2554, 39, "#222", "end");

// ===== h, i =====
function barPanel(p) {
  var x = d3.scaleBand().domain(p.cats).range(p.xr).paddingInner(p.pad).paddingOuter(p.pad / 2);
  var y = d3.scaleLinear().domain([0, 7]).range(p.yr);
  var means = p.vals.map(function(v) { return d3.mean(v); });
  var sds = p.vals.map(function(v, i) { return Math.sqrt(d3.mean(v, function(a) { return (a - means[i]) * (a - means[i]); })); });
  svg.append("g").selectAll("rect").data(p.cats).enter().append("rect")
    .attr("x", function(d) { return x(d); }).attr("width", x.bandwidth())
    .attr("y", function(d, i) { return y(means[i]); }).attr("height", function(d, i) { return y(0) - y(means[i]); })
    .attr("fill", function(d, i) { return p.barFill[i]; });
  var gx = svg.append("g").attr("transform", "translate(0," + p.yr[0] + ")").call(d3.axisBottom(x).tickSize(24).tickSizeOuter(0));
  styleAxis(gx, 38);
  gx.selectAll(".tick text").attr("text-anchor", "end").attr("x", 0).attr("y", 0).attr("dy", "0.35em")
    .attr("transform", "translate(-10,52) rotate(" + p.rot + ")");
  var gy = svg.append("g").attr("transform", "translate(" + p.xr[0] + ",0)")
    .call(d3.axisLeft(y).tickValues([0, 2, 4, 6]).tickFormat(d3.format("d")).tickSize(24).tickSizeOuter(0).tickPadding(10));
  styleAxis(gy);
  dotted(p.xr[0], p.xr[1], y(2), y(2));
  p.cats.forEach(function(c, i) {
    var cx = x(c) + x.bandwidth() / 2, g = svg.append("g").attr("stroke", "#5f5f5f").attr("stroke-width", 4.5);
    g.append("line").attr("x1", cx).attr("x2", cx).attr("y1", y(means[i] - sds[i])).attr("y2", y(means[i] + sds[i]));
    [means[i] - sds[i], means[i] + sds[i]].forEach(function(v) {
      g.append("line").attr("x1", cx - 13).attr("x2", cx + 13).attr("y1", y(v)).attr("y2", y(v));
    });
    var offs = swarm(p.vals[i], y, 11);
    svg.append("g").selectAll("circle").data(p.vals[i]).enter().append("circle")
      .attr("cx", function(d, k) { return cx + offs[k]; }).attr("cy", function(d) { return y(d); })
      .attr("r", 11).attr("fill", p.ptFill[i]).attr("stroke", "#151515").attr("stroke-width", 2);
  });
}
letter("h", 1738, 1828);
ctext("MAP2K4", 2124, 1839, 39, "#111");
barPanel({ cats: hSites, vals: hVals, xr: [1959.1, 2289.4], yr: [2427.1, 1872], pad: 0.245, rot: -36,
  barFill: ["#8aa1c1", "#8aa1c1", "#8aa1c1"], ptFill: ["#4a74c0", "#4a74c0", "#4a74c0"] });
yLabel(["Gel-filtered/Unfiltered lysate", "MS1 ion intensity"], [1817, 1861], 2150);

letter("i", 2340, 1826);
ctext("MAP2K4 C246", 2668, 1830, 39, "#111");
barPanel({ cats: iConds, vals: iVals, xr: [2547.8, 2790], yr: [2420.5, 1865.4], pad: 0.23, rot: -38,
  barFill: ["#7a7a7a", "#8aa1c1"], ptFill: ["#6c6c6c", "#4a74c0"] });
yLabel(["Gel-filtered/Unfiltered lysate", "MS1 ion intensity"], [2408, 2450], 2143);

// ===== alignment =====
var MONO = "'Liberation Mono', 'Courier New', monospace", SFS = 41.2, CW = SFS * 0.6;
var seqY = d3.scalePoint().domain(seqNames).range([2872, 3197.6]);
seqNames.forEach(function(n, i) {
  var g = svg.append("g").attr("transform", "translate(0," + seqY(n) + ") scale(1,1.15)")
    .attr("font-family", MONO).attr("font-size", SFS).attr("fill", "#111").attr("stroke", "#111").attr("stroke-width", 0.6);
  [[n, 1045], [seqRanges[i], 1221], [seqCys[i], 1483]].forEach(function(t) {
    g.append("text").attr("x", t[1]).attr("y", 0).attr("dominant-baseline", "central").text(t[0]);
  });
  var s = seqs[i], ci = s.indexOf("C", 20), x0 = 1667.5;
  g.append("text").attr("x", x0).attr("y", 0).attr("dominant-baseline", "central").text(s.slice(0, ci));
  g.append("text").attr("x", x0 + ci * CW + 1).attr("y", 0).attr("dominant-baseline", "central")
    .attr("font-family", FONT).attr("font-weight", "bold").attr("font-size", 46).attr("stroke", "none").text("C");
  g.append("text").attr("x", x0 + (ci + 1) * CW + 5).attr("y", 0).attr("dominant-baseline", "central").text(s.slice(ci + 1));
});
</script>
</body>
</html>
